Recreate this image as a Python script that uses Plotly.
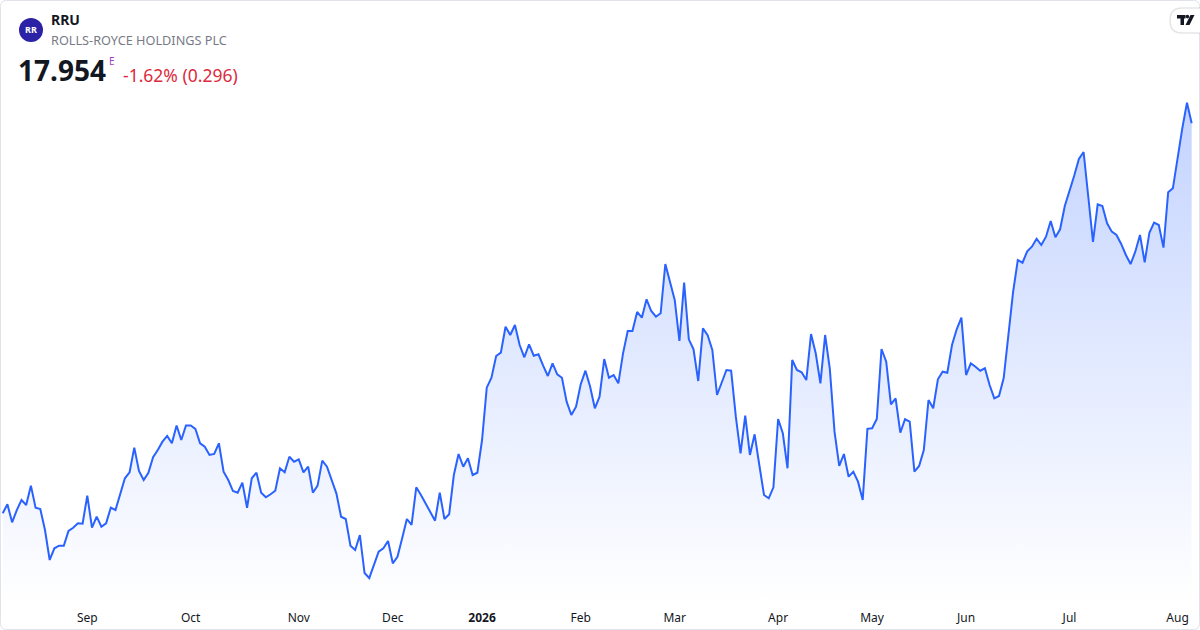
import pandas as pd
import plotly.graph_objects as go

# RRU daily closes, 6 Aug 2025 - 6 Aug 2026
closes = [
    12.350, 12.479, 12.221, 12.397, 12.541, 12.469, 12.747, 12.430, 12.412, 12.110,
    11.679, 11.847, 11.884, 11.884, 12.096, 12.143, 12.206, 12.200, 12.603, 12.143,
    12.301, 12.157, 12.206, 12.430, 12.397, 12.613, 12.853, 12.939, 13.293, 12.958,
    12.828, 12.933, 13.155, 13.260, 13.379, 13.461, 13.356, 13.612, 13.403, 13.612,
    13.612, 13.564, 13.356, 13.307, 13.188, 13.202, 13.356, 12.948, 12.828, 12.670,
    12.646, 12.790, 12.430, 12.853, 12.933, 12.646, 12.580, 12.623, 12.675, 12.997,
    12.939, 13.163, 13.091, 13.126, 12.939, 13.020, 12.646, 12.747, 13.106, 13.020,
    12.828, 12.637, 12.301, 12.268, 11.884, 11.823, 12.038, 11.492, 11.420, 11.607,
    11.798, 11.847, 11.952, 11.631, 11.726, 11.991, 12.268, 12.182, 12.724, 12.613,
    12.494, 12.364, 12.244, 12.646, 12.268, 12.336, 12.900, 13.202, 13.020, 13.141,
    12.900, 12.933, 13.403, 14.155, 14.298, 14.610, 14.658, 15.031, 14.912, 15.056,
    14.768, 14.592, 14.778, 14.615, 14.635, 14.471, 14.323, 14.505, 14.347, 14.298,
    13.954, 13.762, 13.882, 14.204, 14.399, 14.169, 13.859, 14.025, 14.567, 14.298,
    14.337, 14.218, 14.649, 14.970, 14.970, 15.243, 15.161, 15.425, 15.257, 15.175,
    15.224, 15.932, 15.678, 15.415, 14.826, 15.664, 14.850, 14.707, 14.251, 15.008,
    14.908, 14.697, 14.050, 14.227, 14.409, 14.399, 13.738, 13.212, 13.752, 13.188,
    13.485, 13.044, 12.613, 12.565, 12.724, 13.705, 13.500, 12.997, 14.553, 14.409,
    14.376, 14.265, 14.926, 14.649, 14.218, 14.912, 14.424, 13.523, 13.030, 13.202,
    12.876, 12.948, 12.804, 12.541, 13.564, 13.571, 13.705, 14.711, 14.528, 13.916,
    14.002, 13.508, 13.701, 13.666, 12.948, 13.030, 13.260, 13.978, 13.859, 14.276,
    14.385, 14.370, 14.768, 14.994, 15.161, 14.337, 14.505, 14.457, 14.399, 14.434,
    14.194, 14.002, 14.036, 14.294, 14.883, 15.530, 15.990, 15.951, 16.115, 16.181,
    16.296, 16.205, 16.325, 16.550, 16.316, 16.431, 16.766, 16.971, 17.201, 17.441,
    17.542, 16.899, 16.249, 16.790, 16.766, 16.517, 16.397, 16.349, 16.220, 16.062,
    15.932, 16.109, 16.349, 15.957, 16.382, 16.526, 16.493, 16.167, 16.963, 17.020,
    17.484, 17.882, 18.250, 17.954,
]

# Xetra trading days
holidays = ["2025-12-24", "2025-12-25", "2025-12-26", "2025-12-31",
            "2026-01-01", "2026-04-03", "2026-04-06", "2026-05-01"]
days = pd.bdate_range("2025-08-06", "2026-08-06")
days = days[~days.isin(pd.to_datetime(holidays))]
dates = [d.strftime("%Y-%m-%d") for d in days]

month_names = ["Sep", "Oct", "Nov", "Dec", "<b>2026</b>", "Feb", "Mar",
               "Apr", "May", "Jun", "Jul", "Aug"]
firsts = pd.Series(days).groupby([days.year, days.month]).first()
tick_dates = [d.strftime("%Y-%m-%d") for d in firsts.iloc[1:]]

W, H, PB = 1200, 630, 603
def px(x):
    return x / W
def py(y):
    return (PB - y) / PB

ymin = 19.726 - 0.01437 * PB
ymax = 19.726

fig = go.Figure()
fig.add_trace(go.Scatter(
    x=dates, y=closes, mode="lines",
    line=dict(color="#2962ff", width=2),
    fill="tozeroy",
    fillgradient=dict(type="vertical", start=ymin, stop=18.3,
                      colorscale=[[0, "rgba(41,98,255,0.0)"], [1, "rgba(41,98,255,0.28)"]]),
    hoverinfo="skip",
))

font = "Noto Sans"
ann = [
    dict(text="<b>RRU</b>", x=px(49), y=py(20), size=14, color="#131722"),
    dict(text="ROLLS-ROYCE HOLDINGS PLC", x=px(49), y=py(40), size=12.7, color="#787b86"),
    dict(text="<b>17.954</b>", x=px(16), y=py(70), size=28, color="#131722"),
    dict(text="E", x=px(107), y=py(61), size=10, color="#a23fc2"),
    dict(text="-1.62% (0.296)", x=px(121), y=py(75), size=17.5, color="#db2b3e"),
    dict(text="<b>RR</b>", x=px(31), y=py(30), size=9, color="#ffffff", xanchor="center"),
]
annotations = []
for a in ann:
    annotations.append(dict(
        text=a["text"], x=a["x"], y=a["y"], xref="paper", yref="paper",
        xanchor=a.get("xanchor", "left"), yanchor="middle", showarrow=False,
        font=dict(family=font, size=a["size"], color=a["color"]),
    ))

def pth(points):
    return "M " + " L ".join("%.5f,%.5f" % (px(x), py(y)) for x, y in points) + " Z"

r = 6
x0, y0, x1, y1 = 0.5, 0.5, 1199.5, 629.5
border = ("M %f,%f L %f,%f Q %f,%f %f,%f L %f,%f Q %f,%f %f,%f L %f,%f Q %f,%f %f,%f L %f,%f Q %f,%f %f,%f Z" % (
    px(x0 + r), py(y0), px(x1 - r), py(y0), px(x1), py(y0), px(x1), py(y0 + r),
    px(x1), py(y1 - r), px(x1), py(y1), px(x1 - r), py(y1),
    px(x0 + r), py(y1), px(x0), py(y1), px(x0), py(y1 - r),
    px(x0), py(y0 + r), px(x0), py(y0), px(x0 + r), py(y0)))

pill = ("M %f,%f L %f,%f L %f,%f L %f,%f Q %f,%f %f,%f Q %f,%f %f,%f Z" % (
    px(1182), py(8), px(1202), py(8), px(1202), py(33), px(1182), py(33),
    px(1170), py(33), px(1170), py(20.5), px(1170), py(8), px(1182), py(8)))

shapes = [
    dict(type="path", path=border, xref="paper", yref="paper",
         line=dict(color="#e0e3eb", width=1), layer="above"),
    dict(type="path", path=pill, xref="paper", yref="paper",
         fillcolor="#ffffff", line=dict(color="rgba(0,0,0,0.10)", width=1.5)),
    dict(type="path", path=pth([(1177, 15), (1185.5, 15), (1185.5, 18.5), (1184, 18.5),
                                (1184, 25), (1180.5, 25), (1180.5, 18.5), (1177, 18.5)]),
         xref="paper", yref="paper", fillcolor="#131722", line=dict(width=0)),
    dict(type="circle", xref="paper", yref="paper", x0=px(1185.6), x1=px(1189.2),
         y0=py(18.4), y1=py(14.8), fillcolor="#131722", line=dict(width=0)),
    dict(type="path", path=pth([(1190.5, 15), (1194.5, 15), (1189.5, 25), (1185.5, 25)]),
         xref="paper", yref="paper", fillcolor="#131722", line=dict(width=0)),
    dict(type="circle", xref="paper", yref="paper", x0=px(19), x1=px(43),
         y0=py(42), y1=py(18), fillcolor="#2b22a6", line=dict(width=0)),
]

fig.update_layout(
    width=W, height=H,
    margin=dict(l=0, r=0, t=0, b=H - PB),
    paper_bgcolor="white", plot_bgcolor="white",
    showlegend=False,
    annotations=annotations,
    shapes=shapes,
    font=dict(family=font),
)
fig.update_xaxes(type="category", range=[-0.574, 254.77], tickvals=tick_dates,
                 ticktext=month_names, showgrid=False, showline=False, zeroline=False,
                 ticks="", ticklabelstandoff=6,
                 tickfont=dict(family=font, size=12, color="#131722"))
fig.update_yaxes(visible=False, range=[ymin, ymax], showgrid=False)
fig.write_html("out.html", config={"displayModeBar": False},
               post_script="document.body.style.margin='0';document.body.style.overflow='hidden';")
